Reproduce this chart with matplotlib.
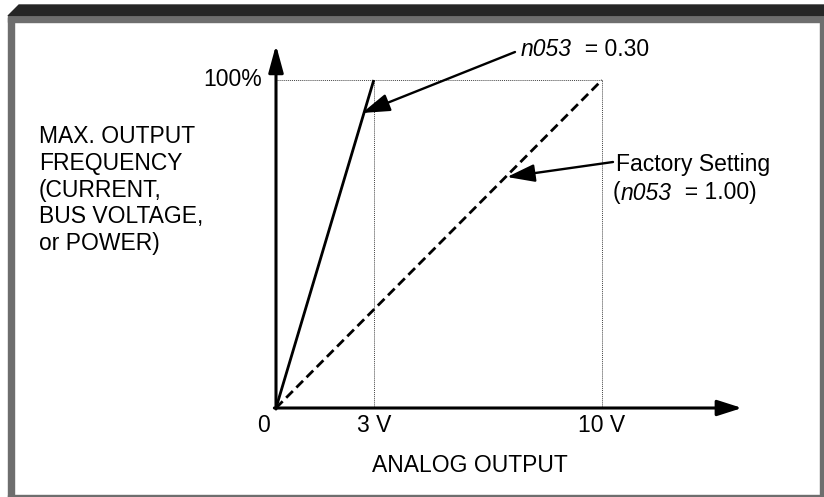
import matplotlib
matplotlib.use("Agg")
import matplotlib.pyplot as plt
from matplotlib.patches import Polygon, Rectangle

plt.rcParams['font.family'] = ['Liberation Sans', 'DejaVu Sans']

#Chart data
volts_gain030 = [0, 3]        # n053 = 0.30
freq_gain030 = [0, 100]
volts_factory = [0, 10]       # factory setting n053 = 1.00
freq_factory = [0, 100]
guide_volts = [3, 10]
tick_volts = [0, 3, 10]
tick_labels = ["0", "3 V", "10 V"]
y_label_lines = ["MAX. OUTPUT", "FREQUENCY", "(CURRENT,", "BUS VOLTAGE,", "or POWER)"]

#pixel layout of the figure
W, H = 824, 497
X0, SX = 276, 32.6     # pixel of 0 V, pixels per volt
Y0, SY = 408, 3.28     # pixel of 0 %, pixels per percent
FS = 16.5

def fx(px):
    return px / W

def fy(py):
    return 1 - py / H

#pixel -> data helpers for text placement
def dx(px):
    return (px - X0) / SX

def dy(py):
    return (Y0 - py) / SY

fig = plt.figure(figsize=(W / 100, H / 100), dpi=100)

#frame decoration
fig.patches.append(Polygon([(fx(8), fy(16)), (fx(19), fy(5)), (1, fy(5)), (1, fy(16))],
                           closed=True, transform=fig.transFigure, color='#262626', zorder=0))
grey = '#6e6e6e'
fig.patches.append(Rectangle((fx(8), fy(22)), fx(816), 5 / H, transform=fig.transFigure, color=grey))
fig.patches.append(Rectangle((fx(8), 0), fx(6), fy(17), transform=fig.transFigure, color=grey))
fig.patches.append(Rectangle((fx(820), 0), fx(4), fy(17), transform=fig.transFigure, color=grey))
fig.patches.append(Rectangle((fx(8), 0), fx(816), 2 / H, transform=fig.transFigure, color=grey))

ax = fig.add_axes([0, 0, 1, 1])
ax.set_xlim(dx(0), dx(W))
ax.set_ylim(dy(H), dy(0))
ax.axis('off')
ax.patch.set_alpha(0)

#guide lines
for v in guide_volts:
    ax.plot([v, v], [0, 100], color='#444444', lw=0.7, ls=(0, (1, 1)))
ax.plot([0, max(guide_volts)], [100, 100], color='#444444', lw=0.7, ls=(0, (1, 1)))

#axes with arrow heads
ax.annotate('', xy=(dx(742), 0), xytext=(-0.05, 0),
            arrowprops=dict(arrowstyle='-|>,head_length=1.0,head_width=0.32', lw=2.2,
                            color='black', mutation_scale=15, shrinkA=0, shrinkB=0))
ax.annotate('', xy=(0, dy(45)), xytext=(0, -0.3),
            arrowprops=dict(arrowstyle='-|>,head_length=1.1,head_width=0.3', lw=2.2,
                            color='black', mutation_scale=15, shrinkA=0, shrinkB=0))

#the two curves
ax.plot(volts_gain030, freq_gain030, color='black', lw=2.0, solid_capstyle='butt')
ax.plot(volts_factory, freq_factory, color='black', lw=2.0, ls=(0, (3.4, 1.8)))

#tick labels
ax.text(dx(264), dy(425), tick_labels[0], fontsize=FS, ha='center', va='center')
for v, lab in zip(tick_volts[1:], tick_labels[1:]):
    ax.text(v, dy(425), lab, fontsize=FS, ha='center', va='center')
ax.text(dx(262), 100, "100%", fontsize=FS, ha='right', va='center')
ax.text(dx(470), dy(465), "ANALOG OUTPUT", fontsize=FS, ha='center', va='center')
ax.text(dx(39), dy(190), "\n".join(y_label_lines), fontsize=FS,
        ha='left', va='center', linespacing=1.22)

#callouts
arrow_kw = dict(arrowstyle='-|>,head_length=1.0,head_width=0.32', lw=1.7,
                color='black', mutation_scale=17, shrinkA=0, shrinkB=0)
ax.annotate('', xy=(dx(362), dy(113)), xytext=(dx(515), dy(52)), arrowprops=arrow_kw)
t1 = ax.text(dx(521), dy(50), 'n053', fontsize=FS, fontstyle='italic', ha='left', va='center')
ax.annotate('  = 0.30', xy=(1, 0.5), xycoords=t1, fontsize=FS, ha='left', va='center')

ax.annotate('', xy=(dx(507), dy(177)), xytext=(dx(613), dy(162)), arrowprops=arrow_kw)
ax.text(dx(616), dy(165), 'Factory Setting', fontsize=FS, ha='left', va='center')
t2 = ax.text(dx(613), dy(193), '(', fontsize=FS, ha='left', va='center')
t3 = ax.annotate('n053', xy=(1, 0.5), xycoords=t2, fontsize=FS, fontstyle='italic',
                 ha='left', va='center')
ax.annotate('  = 1.00)', xy=(1, 0.5), xycoords=t3, fontsize=FS, ha='left', va='center')

fig.savefig('out.png', dpi=100)
